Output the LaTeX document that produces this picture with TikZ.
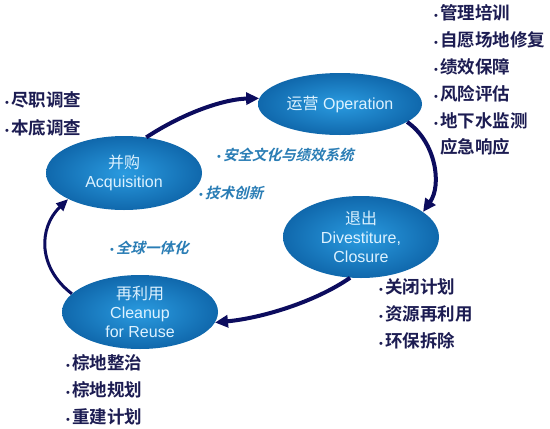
\documentclass[tikz,border=0pt]{standalone}
\usepackage{fontspec}
\setmainfont{Liberation Sans}
\newfontfamily\cjk{Noto Sans CJK SC}
\newfontfamily\cjkb{Noto Sans CJK SC Bold}
\newfontfamily\cjki{Noto Sans CJK SC Bold}[FakeSlant=0.25]
\usetikzlibrary{shapes.geometric,arrows.meta}
\definecolor{navy}{HTML}{1C1C52}
\definecolor{arrowc}{HTML}{0C0C5E}
\definecolor{labc}{HTML}{2A7DB5}
\definecolor{ellin}{HTML}{2A9BE0}
\definecolor{ellout}{HTML}{1068AC}
\definecolor{elltext}{HTML}{DDF2FF}
\tikzset{
  stage/.style={ellipse, inner sep=0pt, inner color=ellin, outer color=ellout,
    text=elltext, align=center, font=\fontsize{16}{19}\selectfont},
  item/.style={anchor=west, inner sep=0pt, text=navy, font=\fontsize{17.5}{17.5}\selectfont},
  note/.style={anchor=west, inner sep=0pt, text=labc, font=\fontsize{14.5}{14.5}\selectfont},
  flow/.style={draw=arrowc, line width=4pt, -{Triangle[length=13pt,width=12pt]}},
}
\newcommand{\bul}{{\fontsize{11}{11}\selectfont•}\hspace{2pt}}
\begin{document}
\begin{tikzpicture}[x=1pt,y=-1pt]
\useasboundingbox[fill=white] (0,0) rectangle (550,429);
% stages
\node[stage, minimum width=156pt, minimum height=74pt] (acq) at (124,173) {{\cjk 并购}\\Acquisition};
\node[stage, minimum width=164pt, minimum height=62pt] (op) at (340,104) {{\cjk 运营} Operation};
\node[stage, minimum width=156pt, minimum height=82pt] (div) at (361,237) {{\cjk 退出}\\Divestiture,\\Closure};
\node[stage, minimum width=156pt, minimum height=74pt] (cl) at (140,312) {{\cjk 再利用}\\Cleanup\\for Reuse};
% lists
\node[item] (a1) at (5,100) {\bul{\cjkb 尽职调查}};
\node[item] (a2) at (5,128) {\bul{\cjkb 本底调查}};
\node[item] (o1) at (434,13) {\bul{\cjkb 管理培训}};
\node[item] (o2) at (434,40) {\bul{\cjkb 自愿场地修复}};
\node[item] (o3) at (434,67) {\bul{\cjkb 绩效保障}};
\node[item] (o4) at (434,94) {\bul{\cjkb 风险评估}};
\node[item] (o5) at (434,121) {\bul{\cjkb 地下水监测}};
\node[item] (o6) at (440,147) {\cjkb 应急响应};
\node[item] (d1) at (379,287) {\bul{\cjkb 关闭计划}};
\node[item] (d2) at (379,314) {\bul{\cjkb 资源再利用}};
\node[item] (d3) at (379,341) {\bul{\cjkb 环保拆除}};
\node[item] (c1) at (66,363) {\bul{\cjkb 棕地整治}};
\node[item] (c2) at (66,390) {\bul{\cjkb 棕地规划}};
\node[item] (c3) at (66,417) {\bul{\cjkb 重建计划}};
% notes
\node[note] (n1) at (217,155) {\bul{\cjki 安全文化与绩效系统}};
\node[note] (n2) at (199,193) {\bul{\cjki 技术创新}};
\node[note] (n3) at (110,248) {\bul{\cjki 全球一体化}};
% arrows
\draw[flow] (acq.58) .. controls (185,112) and (225,99) .. (op.176);
\draw[flow] (op.-15) .. controls (436,142) and (442,185) .. (div.22);
\draw[flow] (div.-105) .. controls (315,302) and (262,318) .. (cl.-8);
\draw[flow, line width=3pt, -{Triangle[length=12pt,width=10pt]}] (cl.165) .. controls (38,268) and (38,228) .. (acq.205);
\end{tikzpicture}
\end{document}
